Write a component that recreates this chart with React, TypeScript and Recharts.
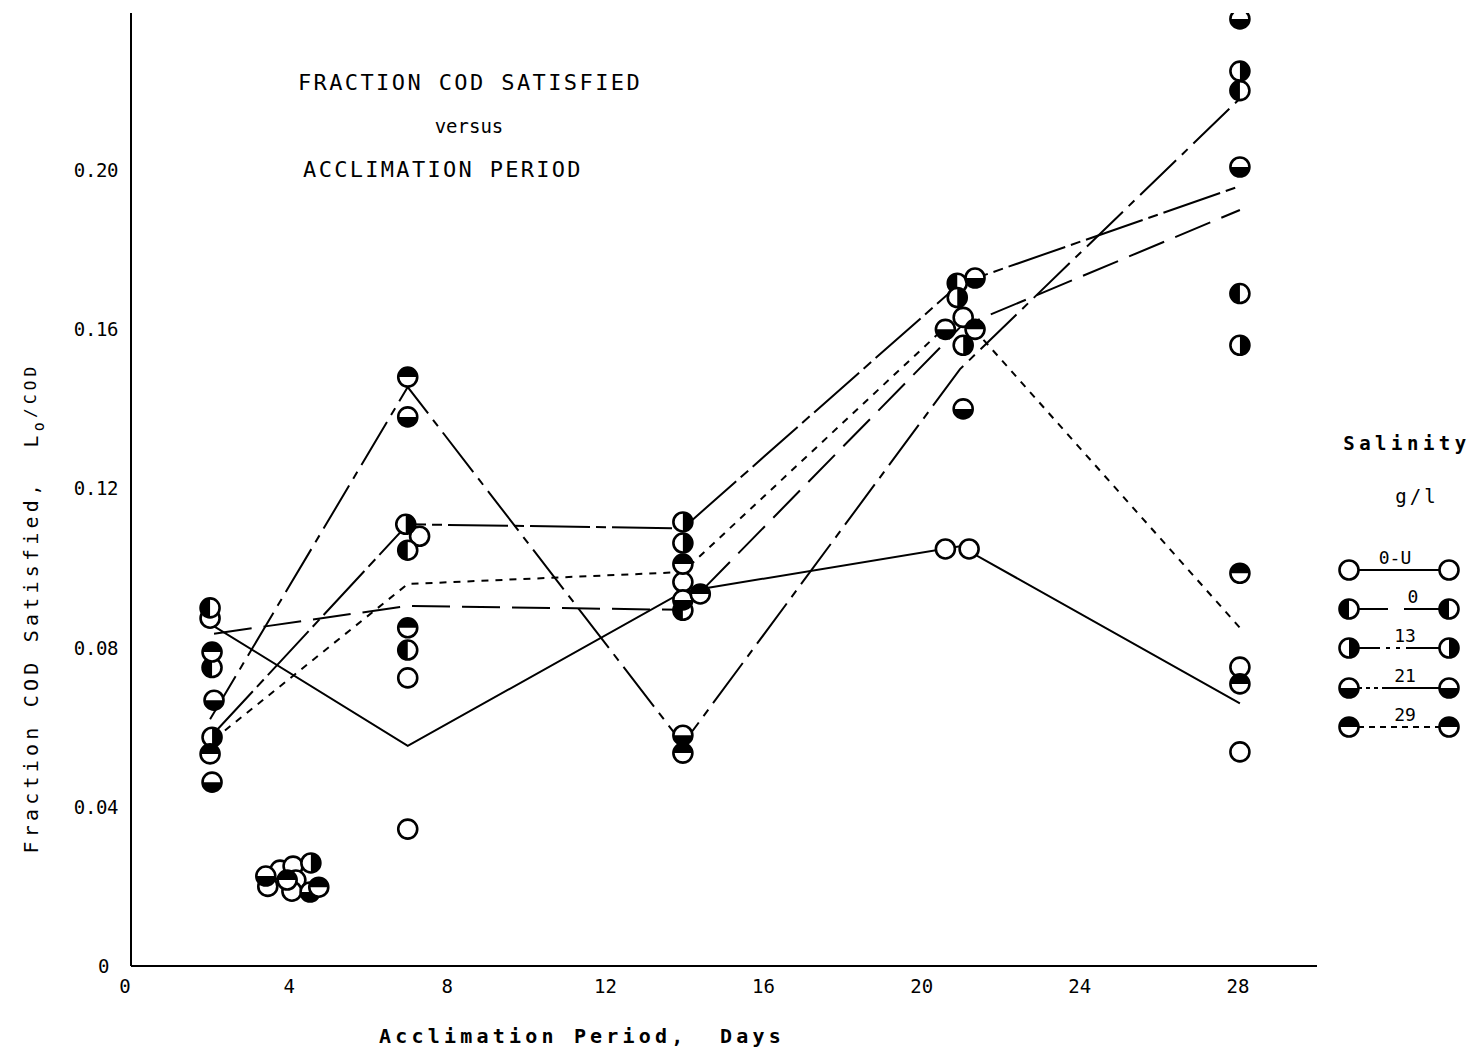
import React from 'react';
import { ScatterChart, Scatter, XAxis, YAxis } from 'recharts';

const xTicks = [0, 4, 8, 12, 16, 20, 24, 28];
const yTicks = [0, 0.04, 0.08, 0.12, 0.16, 0.2];

// Observed points (x = acclimation days, y = Lo/COD)
const ptsOU = [
  { x: 2.0, y: 0.0874 }, { x: 3.46, y: 0.0200 }, { x: 3.77, y: 0.0241 }, { x: 4.1, y: 0.0251 },
  { x: 4.17, y: 0.0216 }, { x: 4.07, y: 0.0188 }, { x: 7.0, y: 0.0724 }, { x: 7.0, y: 0.0344 },
  { x: 7.3, y: 0.108 }, { x: 13.96, y: 0.0965 }, { x: 20.6, y: 0.1048 }, { x: 21.2, y: 0.1048 },
  { x: 21.05, y: 0.163 }, { x: 28.05, y: 0.0751 }, { x: 28.05, y: 0.0538 },
];
const pts0 = [
  { x: 2.0, y: 0.090 }, { x: 2.05, y: 0.075 }, { x: 7.0, y: 0.1045 }, { x: 7.0, y: 0.0794 },
  { x: 13.96, y: 0.0894 }, { x: 20.9, y: 0.1716 }, { x: 28.05, y: 0.220 }, { x: 28.05, y: 0.169 },
];
const pts13 = [
  { x: 2.05, y: 0.0575 }, { x: 4.55, y: 0.0259 }, { x: 6.95, y: 0.111 }, { x: 13.96, y: 0.1116 },
  { x: 13.96, y: 0.1063 }, { x: 20.9, y: 0.168 }, { x: 21.05, y: 0.156 }, { x: 28.05, y: 0.2249 },
  { x: 28.05, y: 0.156 },
];
const pts21 = [
  { x: 2.05, y: 0.0462 }, { x: 2.1, y: 0.0668 }, { x: 3.41, y: 0.0226 }, { x: 4.53, y: 0.0186 },
  { x: 7.0, y: 0.138 }, { x: 13.96, y: 0.058 }, { x: 13.96, y: 0.092 }, { x: 21.35, y: 0.1729 },
  { x: 20.6, y: 0.160 }, { x: 21.05, y: 0.140 }, { x: 28.05, y: 0.238 }, { x: 28.05, y: 0.2008 },
];
const pts29 = [
  { x: 2.05, y: 0.0789 }, { x: 2.0, y: 0.0533 }, { x: 3.95, y: 0.0216 }, { x: 4.75, y: 0.0198 },
  { x: 7.0, y: 0.148 }, { x: 7.0, y: 0.085 }, { x: 13.96, y: 0.101 }, { x: 13.96, y: 0.0535 },
  { x: 14.4, y: 0.0935 }, { x: 21.35, y: 0.160 }, { x: 28.05, y: 0.0987 }, { x: 28.05, y: 0.0709 },
];

// Mean lines per salinity
const lineOU = [{ x: 2.0, y: 0.086 }, { x: 7.0, y: 0.0553 }, { x: 13.96, y: 0.094 }, { x: 20.97, y: 0.1055 }, { x: 28.05, y: 0.066 }];
const line0 = [{ x: 2.1, y: 0.0835 }, { x: 7.0, y: 0.0905 }, { x: 13.96, y: 0.0895 }, { x: 20.97, y: 0.1605 }, { x: 28.05, y: 0.190 }];
const line13 = [{ x: 2.05, y: 0.058 }, { x: 7.0, y: 0.111 }, { x: 13.96, y: 0.110 }, { x: 20.97, y: 0.1715 }, { x: 28.05, y: 0.196 }];
const line21 = [{ x: 2.0, y: 0.062 }, { x: 7.0, y: 0.1455 }, { x: 13.96, y: 0.0558 }, { x: 20.97, y: 0.150 }, { x: 28.05, y: 0.218 }];
const line29 = [{ x: 2.1, y: 0.057 }, { x: 7.0, y: 0.096 }, { x: 13.96, y: 0.099 }, { x: 20.97, y: 0.164 }, { x: 28.05, y: 0.085 }];

const legendRows = ['0-U', '0', '13', '21', '29'];

const MONO = '"DejaVu Sans Mono", monospace';
const R = 9.5;

type Kind = 'open' | 'left' | 'right' | 'top' | 'bottom';

function halfPath(kind: Kind, cx: number, cy: number, r: number) {
  if (kind === 'left') return `M${cx},${cy - r} A${r},${r} 0 0 0 ${cx},${cy + r} Z`;
  if (kind === 'right') return `M${cx},${cy - r} A${r},${r} 0 0 1 ${cx},${cy + r} Z`;
  if (kind === 'top') return `M${cx - r},${cy} A${r},${r} 0 0 1 ${cx + r},${cy} Z`;
  if (kind === 'bottom') return `M${cx - r},${cy} A${r},${r} 0 0 0 ${cx + r},${cy} Z`;
  return '';
}

function Marker({ kind, cx, cy }: { kind: Kind; cx: number; cy: number }) {
  const d = halfPath(kind, cx, cy, R);
  return (
    <g>
      <circle cx={cx} cy={cy} r={R} fill="#fff" />
      {d && <path d={d} fill="#000" />}
      <circle cx={cx} cy={cy} r={R} fill="none" stroke="#000" strokeWidth={2.6} />
    </g>
  );
}

const shapeFor = (kind: Kind) => (props: any) => <Marker kind={kind} cx={props.cx} cy={props.cy} />;
const noShape = () => <g />;

const dashes: Record<string, string | undefined> = {
  'OU': undefined,
  '0': '38 12',
  '13': '60 6 10 6',
  '21': '50 8 8 8',
  '29': '7 7',
};

const XTick = (props: any) => {
  const { x, y, payload } = props;
  const dx = payload.value === 0 ? -6 : 0;
  return (
    <text x={x + dx} y={y} dy="0.71em" textAnchor="middle" fontFamily={MONO} fontSize={19} fill="#000">
      {payload.value}
    </text>
  );
};

const YTick = (props: any) => {
  const { x, y, payload } = props;
  const v = payload.value;
  const label = v === 0 ? '0' : v.toFixed(2);
  const dx = v === 0 ? -9 : 0;
  return (
    <text x={x + dx} y={y} dy="0.36em" textAnchor="end" fontFamily={MONO} fontSize={19} letterSpacing={-0.4} fill="#000">
      {label}
    </text>
  );
};

const lineProps = (key: string) => ({
  stroke: '#000',
  strokeWidth: 2,
  strokeDasharray: dashes[key],
  fill: 'none',
});

export default function App() {
  const legendKinds: Kind[] = ['open', 'left', 'right', 'bottom', 'top'];
  const rowY = [570, 609, 648, 688, 727];
  const labelX = [1395, 1413, 1405, 1405, 1405];
  return (
    <div style={{ position: 'absolute', left: 0, top: 0, width: 1474, height: 1053, background: '#fff' }}>
      <ScatterChart width={1474} height={1053} margin={{ top: 13, right: 157, bottom: 57, left: 71 }}>
        <XAxis
          type="number"
          dataKey="x"
          domain={[0, 30]}
          ticks={xTicks}
          tickLine={false}
          tickSize={6}
          tickMargin={8}
          axisLine={{ stroke: '#000', strokeWidth: 2 }}
          tick={<XTick />}
          height={30}
          allowDataOverflow
        />
        <YAxis
          type="number"
          dataKey="y"
          domain={[0, 0.2395]}
          ticks={yTicks}
          tickLine={false}
          tickSize={6}
          tickMargin={7}
          axisLine={{ stroke: '#000', strokeWidth: 2 }}
          tick={<YTick />}
          width={60}
          allowDataOverflow
        />
        <Scatter name="line0U" data={lineOU} line={lineProps('OU')} shape={noShape} isAnimationActive={false} legendType="none" />
        <Scatter name="line0" data={line0} line={lineProps('0')} shape={noShape} isAnimationActive={false} legendType="none" />
        <Scatter name="line13" data={line13} line={lineProps('13')} shape={noShape} isAnimationActive={false} legendType="none" />
        <Scatter name="line21" data={line21} line={lineProps('21')} shape={noShape} isAnimationActive={false} legendType="none" />
        <Scatter name="line29" data={line29} line={lineProps('29')} shape={noShape} isAnimationActive={false} legendType="none" />
        <Scatter name="0-U" data={ptsOU} shape={shapeFor('open')} isAnimationActive={false} />
        <Scatter name="0" data={pts0} shape={shapeFor('left')} isAnimationActive={false} />
        <Scatter name="13" data={pts13} shape={shapeFor('right')} isAnimationActive={false} />
        <Scatter name="21" data={pts21} shape={shapeFor('bottom')} isAnimationActive={false} />
        <Scatter name="29" data={pts29} shape={shapeFor('top')} isAnimationActive={false} />
      </ScatterChart>
      <svg width={1474} height={1053} style={{ position: 'absolute', left: 0, top: 0, pointerEvents: 'none' }}>
        <g fontFamily={MONO} fill="#000">
          <text x={470} y={90} textAnchor="middle" fontSize={22} letterSpacing={2.4}>FRACTION COD SATISFIED</text>
          <text x={469} y={133} textAnchor="middle" fontSize={19}>versus</text>
          <text x={443} y={177} textAnchor="middle" fontSize={22} letterSpacing={2.3}>ACCLIMATION PERIOD</text>
          <text x={582} y={1043} textAnchor="middle" fontSize={20} fontWeight="bold" letterSpacing={4.2} xmlSpace="preserve">Acclimation Period,  Days</text>
          <text transform="translate(38,608) rotate(-90)" textAnchor="middle" fontSize={20} letterSpacing={4.2} xmlSpace="preserve">
            Fraction COD Satisfied,  L<tspan fontSize={15} dy={6}>o</tspan><tspan fontSize={16} dy={-8}>/COD</tspan>
          </text>
          <text x={1407} y={450} textAnchor="middle" fontSize={19} fontWeight="bold" letterSpacing={4.5}>Salinity</text>
          <text x={1417} y={503} textAnchor="middle" fontSize={19} letterSpacing={3}>g/l</text>
          {legendRows.map((lab, i) => (
            <g key={lab}>
              <line x1={1358} y1={rowY[i]} x2={1440} y2={rowY[i]} stroke="#000" strokeWidth={2} strokeDasharray={
                i === 0 ? undefined : i === 1 ? '30 16 40' : i === 2 ? '22 6 4 6 4 6 40' : i === 3 ? '4 4 4 4 4 4 60' : '6 5'
              } />
              <text x={labelX[i]} y={rowY[i] - 6} textAnchor="middle" fontSize={18}>{lab}</text>
            </g>
          ))}
        </g>
        {legendKinds.map((k, i) => (
          <g key={k + i}>
            <Marker kind={k} cx={1349} cy={rowY[i]} />
            <Marker kind={k} cx={1449} cy={rowY[i]} />
          </g>
        ))}
      </svg>
    </div>
  );
}
